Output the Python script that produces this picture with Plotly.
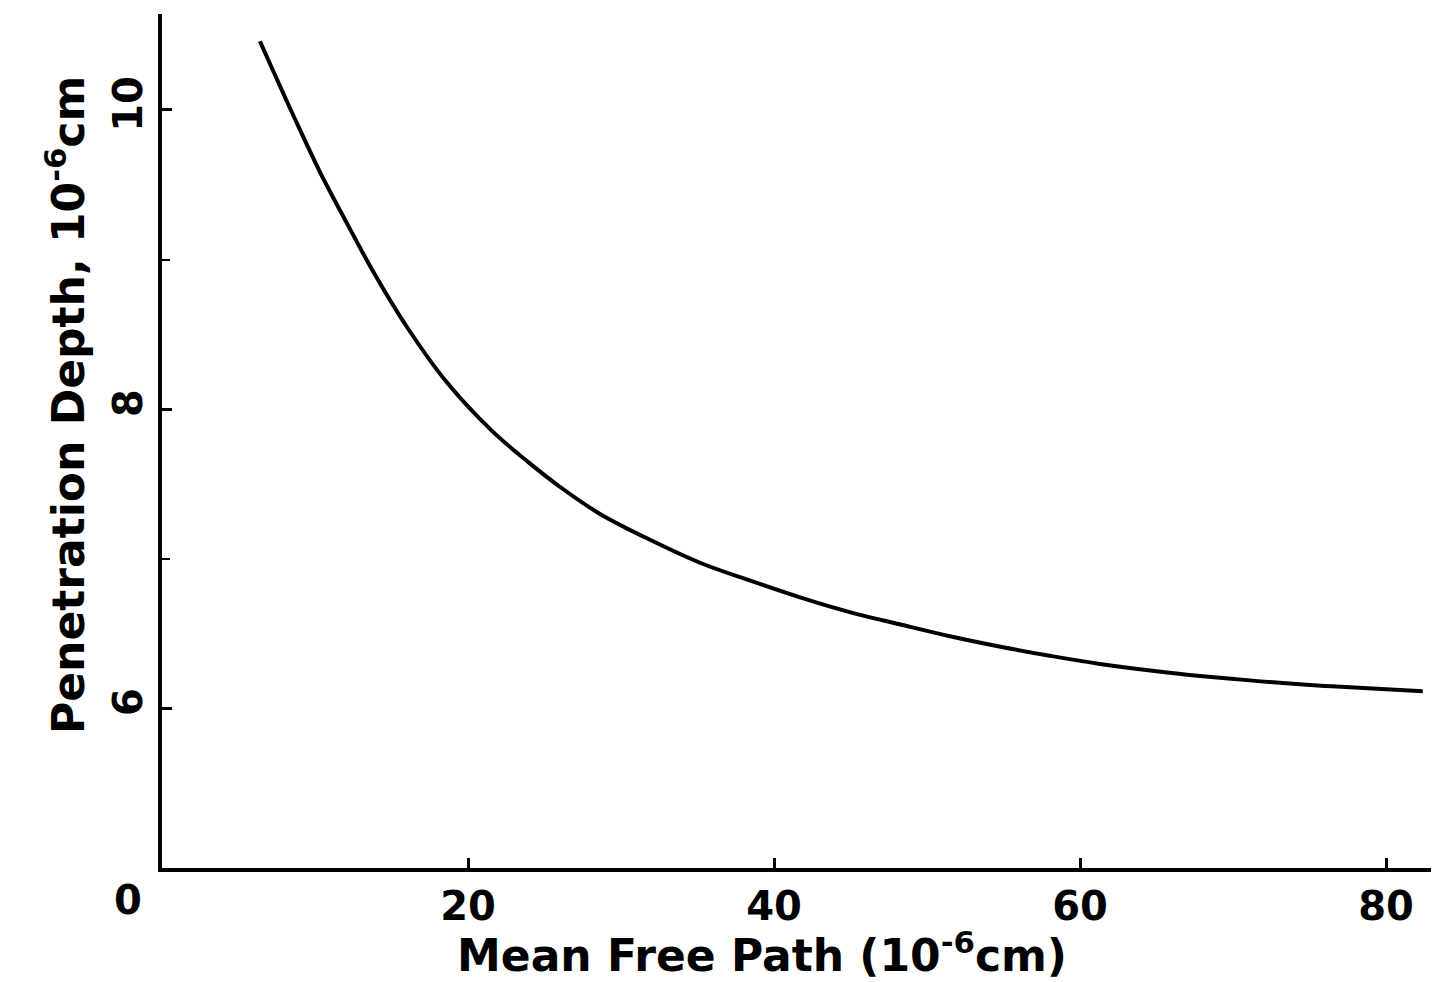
import plotly.graph_objects as go

# Data
mean_free_path = [6.4, 8.6, 10.3, 12.1, 13.8, 16.0, 18.6, 21.6, 24.0, 26.0, 28.6, 32.0, 35.2,
                  38.5, 41.7, 45.0, 48.2, 51.5, 54.8, 58.0, 61.3, 66.0, 71.1, 76.0, 80.0, 82.4]
penetration_depth = [10.46, 9.96, 9.59, 9.24, 8.92, 8.55, 8.18, 7.85, 7.64, 7.48, 7.30, 7.12, 6.97,
                     6.85, 6.74, 6.64, 6.56, 6.48, 6.41, 6.35, 6.295, 6.235, 6.185, 6.148, 6.125, 6.113]

x_major_ticks = [20, 40, 60, 80]
y_major_ticks = [6, 8, 10]
y_minor_ticks = [7, 9]

FONT = "DejaVu Sans"
PW, PH = 1277, 854  # plot area size in px

fig = go.Figure()
fig.add_trace(go.Scatter(
    x=mean_free_path, y=penetration_depth, mode="lines",
    line=dict(color="black", width=4, shape="spline", smoothing=1.0),
    showlegend=False, hoverinfo="skip",
))

fig.update_layout(
    width=1431, height=974,
    margin=dict(l=154, r=0, t=6, b=114),
    paper_bgcolor="white", plot_bgcolor="white",
    font=dict(family=FONT, color="black"),
    xaxis=dict(
        range=[0, 83.46], tickmode="array", tickvals=x_major_ticks,
        ticktext=[f"<b>{v}</b>" for v in x_major_ticks],
        ticks="inside", ticklen=10, tickwidth=3, tickcolor="black",
        showline=True, linecolor="black", linewidth=4,
        showgrid=False, zeroline=False,
        tickfont=dict(size=40, family=FONT),
    ),
    yaxis=dict(
        range=[4.93, 10.642], tickmode="array", tickvals=y_major_ticks,
        ticktext=[f"<b>{v}</b>" for v in y_major_ticks],
        ticks="inside", ticklen=10, tickwidth=3, tickcolor="black",
        showline=True, linecolor="black", linewidth=4,
        showgrid=False, zeroline=False, tickangle=-90,
        tickfont=dict(size=40, family=FONT),
        minor=dict(tickvals=y_minor_ticks, ticks="inside", ticklen=8, tickwidth=2, tickcolor="black"),
    ),
    annotations=[
        dict(text="<b>0</b>", xref="paper", yref="paper", x=-34 / PW, y=-32 / PH,
             xanchor="center", yanchor="middle", showarrow=False, font=dict(size=40, family=FONT)),
        dict(text="<b>Mean Free Path (10<sup>-6</sup>cm)</b>", xref="paper", yref="paper",
             x=(762 - 162) / PW, y=-(952 - 868) / PH, xanchor="center", yanchor="middle",
             showarrow=False, font=dict(size=44, family=FONT)),
        dict(text="<b>Penetration Depth, 10<sup>-6</sup>cm</b>", xref="paper", yref="paper",
             x=-(162 - 66) / PW, y=(868 - 405) / PH, xanchor="center", yanchor="middle",
             textangle=-90, showarrow=False, font=dict(size=44, family=FONT)),
    ],
)

fig.write_html("out.html")
